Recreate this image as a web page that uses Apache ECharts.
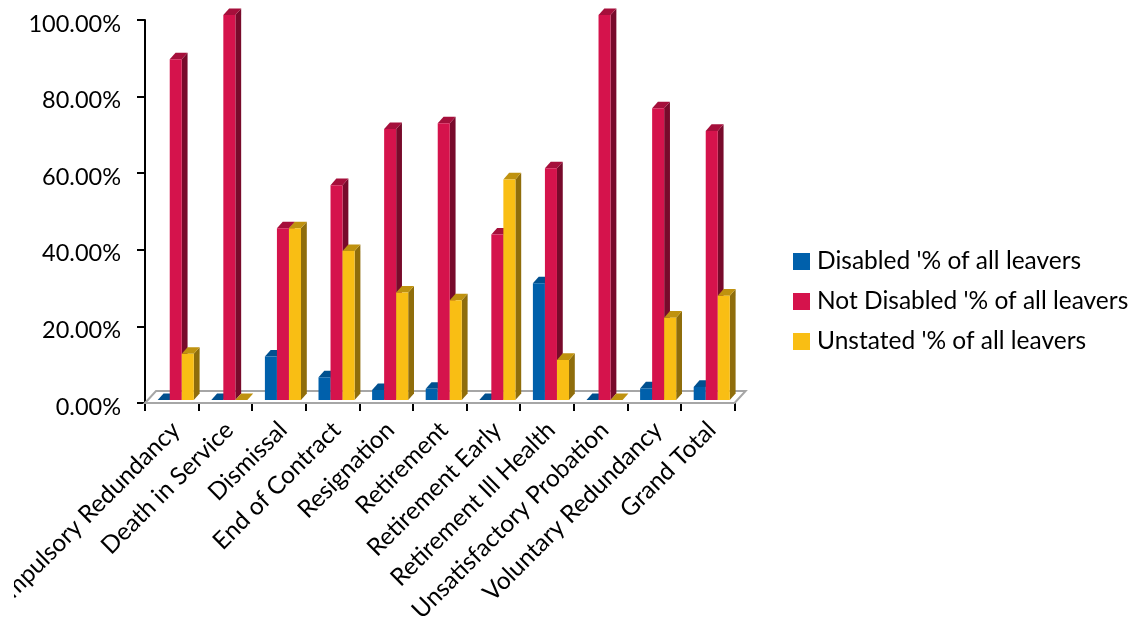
<!DOCTYPE html>
<html>
<head>
<meta charset="utf-8">
<style>
html,body{margin:0;padding:0;background:#fff;width:1136px;height:617px;overflow:hidden}
#chart{position:absolute;left:14px;top:0;width:1122px;height:617px}
</style>
<script src="https://cdn.jsdelivr.net/npm/echarts@6/dist/echarts.min.js"></script>
</head>
<body>
<div id="chart"></div>
<script>
// Leavers by reason, split by disability status
const categories = ['Compulsory Redundancy','Death in Service','Dismissal','End of Contract','Resignation','Retirement','Retirement Early','Retirement Ill Health','Unsatisfactory Probation','Voluntary Redundancy','Grand Total'];
const disabled = [0,0,11.3,5.9,2.6,2.9,0,30.3,0,3,3.4];
const notDisabled = [88.5,100,44.6,55.8,70.4,71.9,43,60.2,100,75.8,69.9];
const unstated = [12,0,44.6,38.7,27.9,25.9,57.3,10.4,0,21.4,27.1];
const seriesNames = ["Disabled '% of all leavers","Not Disabled '% of all leavers","Unstated '% of all leavers"];
const fontFamily = 'Lato';

const palette = [
  {front:'#0060AB', top:'#00508F', side:'#003C6B'},
  {front:'#D5134C', top:'#A50F3B', side:'#780A2B'},
  {front:'#F9BE14', top:'#BF920F', side:'#8F6D0B'}
];

// Extruded column: front, top and right faces
function barRenderer(k){
  const c = palette[k];
  return function(params, api){
    const band = api.size([1,0])[0];
    const w = band*0.2245, dx = 5.8, dy = 6.6, lift = 3;
    const zero = api.coord([api.value(0),0]);
    const peak = api.coord([api.value(0),api.value(1)]);
    const x0 = zero[0]-band/2+12.7+k*w, x1 = x0+w;
    const yb = zero[1]-lift;
    const yt = yb-(zero[1]-peak[1])*1.005;
    const face = (pts,fill)=>({type:'polygon',shape:{points:pts},style:{fill:fill},silent:true});
    return {type:'group',children:[
      face([[x1,yb],[x1+dx,yb-dy],[x1+dx,yt-dy],[x1,yt]],c.side),
      face([[x0,yt],[x0+dx,yt-dy],[x1+dx,yt-dy],[x1,yt]],c.top),
      face([[x0,yb],[x1,yb],[x1,yt],[x0,yt]],c.front)
    ]};
  };
}

// Chart floor drawn behind the columns
function floorRenderer(params){
  const s = params.coordSys, d = 11, h = 12;
  const b = s.y+s.height;
  return {type:'polygon',silent:true,shape:{points:[[s.x,b],[s.x+d,b-h],[s.x+s.width+d,b-h],[s.x+s.width,b]]},
    style:{fill:'#fff',stroke:'#A6A6A6',lineWidth:2}};
}

const toPairs = arr => arr.map((v,i)=>[i,v]);
const chart = echarts.init(document.getElementById('chart'));
chart.setOption({
  animation:false,
  backgroundColor:'#fff',
  textStyle:{fontFamily:fontFamily},
  grid:{left:131,top:20,width:589.6,height:383,containLabel:false,outerBoundsMode:'none'},
  legend:{
    orient:'vertical',left:774,top:244,
    data:seriesNames,
    icon:'rect',itemWidth:17,itemHeight:17,itemGap:15,
    textStyle:{fontFamily:fontFamily,fontSize:24.5,color:'#000',padding:[0,0,0,2]},
    selectedMode:false
  },
  xAxis:{
    type:'category',data:categories,
    axisLine:{show:true,onZero:false,lineStyle:{color:'#000',width:2}},
    axisTick:{show:true,alignWithLabel:false,length:8,lineStyle:{color:'#000',width:2}},
    axisLabel:{interval:0,rotate:45,margin:19,verticalAlign:'top',lineHeight:11.3,fontFamily:fontFamily,fontSize:24.4,color:'#000',hideOverlap:false},
    splitLine:{show:false}
  },
  yAxis:{
    type:'value',min:0,max:100,interval:20,
    axisLine:{show:true,lineStyle:{color:'#000',width:2}},
    axisTick:{show:true,length:8,lineStyle:{color:'#000',width:2}},
    axisLabel:{margin:24,verticalAlign:'top',lineHeight:8,fontFamily:fontFamily,fontSize:23.5,color:'#000',formatter:v=>v.toFixed(2)+'%'},
    splitLine:{show:false}
  },
  series:[
    {type:'custom',name:'floor',data:[[0,0]],renderItem:floorRenderer,silent:true,z:1,encode:{x:0,y:1}},
    ...[disabled,notDisabled,unstated].map((arr,k)=>({
      type:'custom',name:seriesNames[k],data:toPairs(arr),renderItem:barRenderer(k),
      itemStyle:{color:palette[k].front},encode:{x:0,y:1},z:2+k,clip:false
    }))
  ]
});
</script>
</body>
</html>
